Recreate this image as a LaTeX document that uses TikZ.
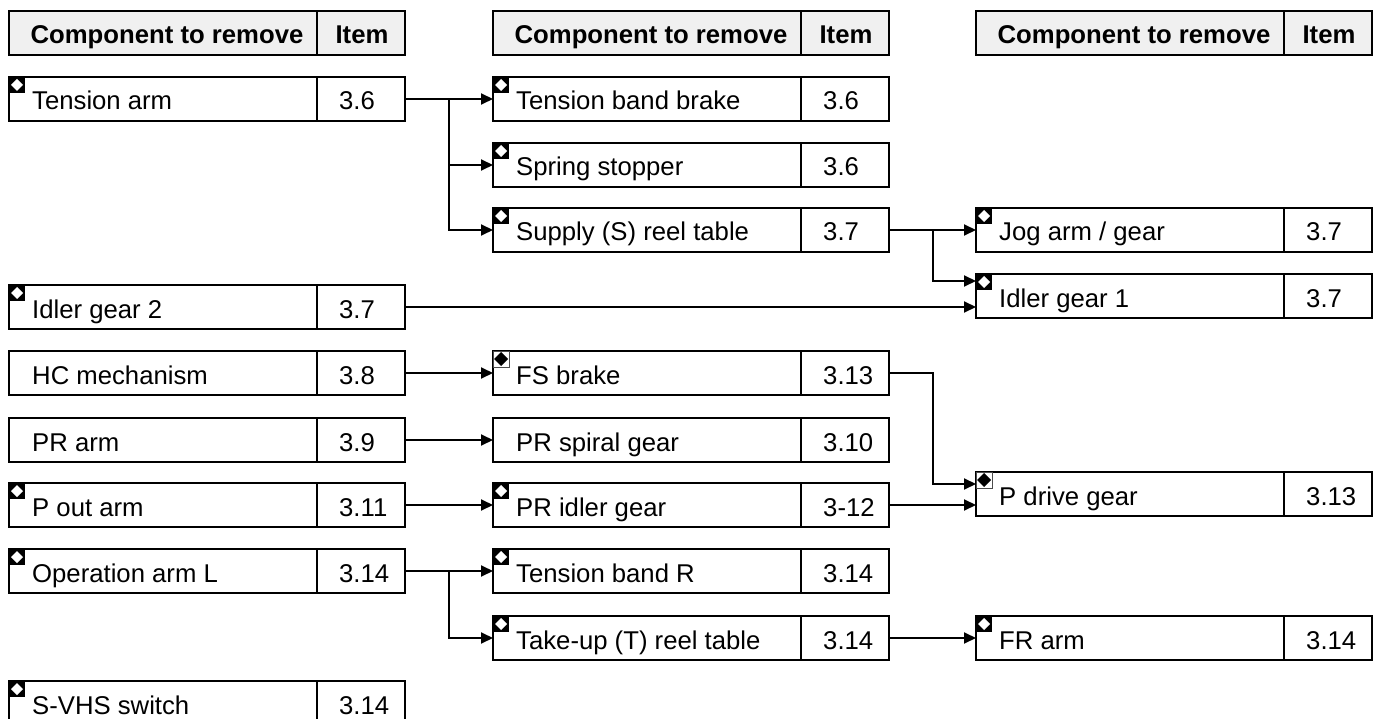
\documentclass[tikz,border=0pt]{standalone}
\usepackage{fontspec}
\setmainfont{Liberation Sans}
\usetikzlibrary{arrows.meta,calc}
\tikzset{
 box/.style={draw, line width=2pt, minimum width=396pt, minimum height=44pt, anchor=north west, inner sep=0pt, outer sep=0pt},
 hdr/.style={box, fill=gray!12},
 divider/.style={line width=1.2pt},
 lbl/.style={anchor=base west, inner sep=0pt, font=\fontsize{25.7}{30}\selectfont},
 hlbl/.style={anchor=base, inner sep=0pt, font=\fontsize{25.7}{30}\selectfont\bfseries},
 conn/.style={line width=1.9pt, -{Triangle[length=12pt,width=11pt]}},
}
\newcommand\mkA[2]{%
 \fill[black] (#1,#2) rectangle ++(16,16);
 \fill[white] (#1+8,#2+2) -- (#1+14,#2+8) -- (#1+8,#2+14) -- (#1+2,#2+8) -- cycle;}
\newcommand\mkB[2]{%
 \filldraw[fill=white, draw=gray!60!black, line width=0.7pt] (#1,#2) rectangle ++(16,16);
 \fill[black] (#1+8,#2+1) -- (#1+15,#2+8) -- (#1+8,#2+15) -- (#1+1,#2+8) -- cycle;}
\newcommand\comp[6]{%
 \node[box] (#1) at (#2,#3) {};
 \draw[divider] (#2+308,#3) -- (#2+308,#3+44);
 \node[lbl] (#1-t) at (#2+23,#3+33) {#4};
 \node[lbl] (#1-i) at (#2+330,#3+33) {#5};
 \ifcase#6\or\mkA{#2}{#3}\or\mkB{#2}{#3}\fi}
\newcommand\hdrbox[3]{%
 \node[hdr] (#1) at (#2,#3) {};
 \draw[divider] (#2+308,#3) -- (#2+308,#3+44);
 \node[hlbl] (#1-t) at (#2+158,#3+33) {Component to remove};
 \node[hlbl] (#1-i) at (#2+353,#3+33) {Item};}
\begin{document}
\begin{tikzpicture}[x=1pt,y=-1pt]
\useasboundingbox (0,0) rectangle (1373,719);
% headers
\hdrbox{h1}{9}{11}
\hdrbox{h2}{493}{11}
\hdrbox{h3}{976}{11}
% column 1
\comp{ta}{9}{77}{Tension arm}{3.6}{1}
\comp{ig2}{9}{285}{Idler gear 2}{3.7}{1}
\comp{hc}{9}{351}{HC mechanism}{3.8}{0}
\comp{pra}{9}{418}{PR arm}{3.9}{0}
\comp{po}{9}{483}{P out arm}{3.11}{1}
\comp{oal}{9}{549}{Operation arm L}{3.14}{1}
\comp{svhs}{9}{681}{S-VHS switch}{3.14}{1}
% column 2
\comp{tbb}{493}{77}{Tension band brake}{3.6}{1}
\comp{ss}{493}{143}{Spring stopper}{3.6}{1}
\comp{sup}{493}{208}{Supply (S) reel table}{3.7}{1}
\comp{fs}{493}{351}{FS brake}{3.13}{2}
\comp{prs}{493}{418}{PR spiral gear}{3.10}{0}
\comp{pri}{493}{483}{PR idler gear}{3-12}{1}
\comp{tbr}{493}{549}{Tension band R}{3.14}{1}
\comp{tu}{493}{616}{Take-up (T) reel table}{3.14}{1}
% column 3
\comp{jog}{976}{208}{Jog arm / gear}{3.7}{1}
\comp{ig1}{976}{274}{Idler gear 1}{3.7}{1}
\comp{pdg}{976}{472}{P drive gear}{3.13}{2}
\comp{fr}{976}{616}{FR arm}{3.14}{1}
% connectors
\coordinate (b1) at ($(ta.east)+(44,0)$);
\draw[conn] (ta.east) -- (ta.east -| tbb.west);
\draw[conn] (b1) |- (ss.west);
\draw[conn] (b1) |- (sup.west);
\coordinate (b2) at ($(sup.east)+(44,0)$);
\draw[conn] (sup.east) -- (sup.east -| jog.west);
\draw[conn] (b2) |- ([yshift=15pt]ig1.west);
\draw[conn] (ig2.east) -- (ig2.east -| ig1.west);
\draw[conn] (hc.east) -- (hc.east -| fs.west);
\draw[conn] (pra.east) -- (pra.east -| prs.west);
\draw[conn] (po.east) -- (po.east -| pri.west);
\coordinate (b4) at ($(fs.east)+(44,0)$);
\draw[conn] (fs.east) -- (b4) |- ([yshift=10pt]pdg.west);
\draw[conn] (pri.east) -- (pri.east -| pdg.west);
\coordinate (b3) at ($(oal.east)+(44,0)$);
\draw[conn] (oal.east) -- (oal.east -| tbr.west);
\draw[conn] (b3) |- (tu.west);
\draw[conn] (tu.east) -- (tu.east -| fr.west);
\end{tikzpicture}
\end{document}
